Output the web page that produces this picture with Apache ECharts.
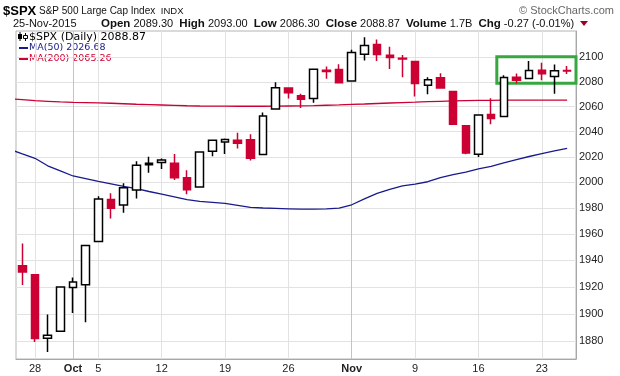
<!DOCTYPE html>
<html>
<head>
<meta charset="utf-8">
<script src="https://cdn.jsdelivr.net/npm/echarts@6/dist/echarts.min.js"></script>
<style>
  html, body { margin: 0; padding: 0; background: #fff; }
  #chart { width: 620px; height: 376px; }
</style>
</head>
<body>
<div id="chart"></div>
<script>
// daily candles, 25-Sep-2015 .. 25-Nov-2015
const days = ['2015-09-25', '2015-09-28', '2015-09-29', '2015-09-30', '2015-10-01', '2015-10-02',
  '2015-10-05', '2015-10-06', '2015-10-07', '2015-10-08', '2015-10-09',
  '2015-10-12', '2015-10-13', '2015-10-14', '2015-10-15', '2015-10-16',
  '2015-10-19', '2015-10-20', '2015-10-21', '2015-10-22', '2015-10-23',
  '2015-10-26', '2015-10-27', '2015-10-28', '2015-10-29', '2015-10-30',
  '2015-11-02', '2015-11-03', '2015-11-04', '2015-11-05', '2015-11-06',
  '2015-11-09', '2015-11-10', '2015-11-11', '2015-11-12', '2015-11-13',
  '2015-11-16', '2015-11-17', '2015-11-18', '2015-11-19', '2015-11-20',
  '2015-11-23', '2015-11-24', '2015-11-25']
const opens = [1935.93, 1929.18, 1881.90, 1887.14, 1919.65, 1921.77,
  1954.33, 1986.63, 1982.34, 1994.01, 2013.73,
  2015.65, 2015.00, 2003.66, 1996.47, 2024.37,
  2031.73, 2033.13, 2033.47, 2021.88, 2058.19,
  2075.08, 2068.75, 2066.48, 2088.35, 2090.00,
  2080.76, 2102.63, 2110.60, 2101.68, 2098.60,
  2096.56, 2077.19, 2083.41, 2072.29, 2044.64,
  2022.08, 2053.67, 2051.99, 2083.70, 2082.82,
  2089.41, 2084.42, 2089.30]
const highs = [1952.89, 1929.18, 1899.48, 1920.53, 1927.21, 1951.36,
  1989.17, 1991.62, 1999.31, 2016.50, 2020.13,
  2018.66, 2022.34, 2009.56, 2024.15, 2033.54,
  2034.45, 2039.12, 2037.97, 2055.20, 2079.74,
  2075.14, 2070.37, 2090.35, 2092.52, 2094.32,
  2106.20, 2116.48, 2114.59, 2108.78, 2101.91,
  2096.56, 2083.67, 2086.94, 2072.29, 2044.64,
  2053.22, 2066.69, 2085.31, 2086.74, 2097.06,
  2095.61, 2094.12, 2093.00]
const lows = [1921.50, 1879.21, 1871.91, 1887.14, 1900.70, 1893.70,
  1954.33, 1971.99, 1976.44, 1987.53, 2007.61,
  2010.55, 2001.78, 1990.73, 1996.47, 2020.46,
  2022.31, 2026.61, 2017.22, 2021.88, 2058.19,
  2066.53, 2058.84, 2063.11, 2082.63, 2079.34,
  2080.76, 2097.51, 2096.98, 2090.41, 2083.74,
  2068.24, 2069.91, 2074.85, 2045.66, 2022.02,
  2019.94, 2045.90, 2051.99, 2078.76, 2082.82,
  2081.39, 2070.29, 2086.30]
const closes = [1931.34, 1881.77, 1884.09, 1920.03, 1923.82, 1951.36,
  1987.05, 1979.92, 1995.83, 2013.43, 2014.89,
  2017.46, 2003.69, 1994.24, 2023.86, 2033.11,
  2033.66, 2030.77, 2018.94, 2052.51, 2075.15,
  2071.18, 2065.89, 2090.35, 2089.41, 2079.36,
  2104.05, 2109.79, 2102.31, 2099.93, 2099.20,
  2078.58, 2081.72, 2075.00, 2045.97, 2023.04,
  2053.19, 2050.44, 2083.58, 2081.24, 2089.17,
  2086.59, 2089.14, 2088.87]
const prevClose = 1932.24   // 24-Sep close, colours the first candle
const volumeText = '1.7B'

// moving averages, one per day starting 24-Sep (the day before the first candle)
const ma50 = [2026.0, 2022.4, 2018.9, 2013.0, 2009.0, 2005.0, 2002.9, 2000.7, 1998.8, 1996.9,
  1995.1, 1992.9, 1990.8, 1988.7, 1986.6, 1985.3, 1984.5, 1983.7, 1982.2, 1980.6,
  1980.1, 1979.8, 1979.5, 1979.2, 1979.2, 1979.4, 1980.0, 1982.6, 1987.2, 1991.5,
  1994.6, 1997.2, 1998.6, 2000.5, 2003.8, 2006.0, 2008.1, 2010.6, 2012.5, 2015.2,
  2017.8, 2020.3, 2022.6, 2024.8, 2026.68]
const ma200 = [2066.3, 2065.6, 2064.8, 2064.3, 2063.8, 2063.5, 2063.3, 2063.1, 2062.7, 2062.3,
  2061.9, 2061.6, 2061.3, 2061.0, 2060.7, 2060.5, 2060.4, 2060.4, 2060.3, 2060.3,
  2060.3, 2060.4, 2060.5, 2060.6, 2060.8, 2061.1, 2061.4, 2061.8, 2062.1, 2062.5,
  2062.9, 2063.3, 2063.6, 2064.0, 2064.3, 2064.6, 2064.8, 2065.0, 2065.1, 2065.2,
  2065.2, 2065.3, 2065.3, 2065.3, 2065.26]

const priceTicks = [1880, 1900, 1920, 1940, 1960, 1980, 2000, 2020, 2040, 2060, 2080, 2100]
const dateTickDays = ['2015-09-28', '2015-10-01', '2015-10-05', '2015-10-12', '2015-10-19',
  '2015-10-26', '2015-11-02', '2015-11-09', '2015-11-16', '2015-11-23']
const dateTickLabels = ['28', 'Oct', '5', '12', '19', '26', 'Nov', '9', '16', '23']

// green highlight box (day index span, price span)
const boxDays = [37.45, 43.7]
const boxPrices = [2078.8, 2100.5]

const RED = '#cc0033'
const NAVY = '#1a1a8c'
const GREEN = '#36a83f'
const FONT = 'Liberation Sans, Arial, sans-serif'
const ln = Math.log

const dateTickIdx = dateTickDays.map(d => days.indexOf(d))

const candleData = days.map((d, i) => {
  const o = opens[i]
  const c = closes[i]
  const prev = i ? closes[i - 1] : prevClose
  const col = c < prev ? RED : '#000000'
  const fill = c > o ? '#ffffff' : col
  return {
    value: [i, ln(o), ln(c), ln(lows[i]), ln(highs[i])],
    itemStyle: { color: fill, color0: fill, borderColor: col, borderColor0: col }
  }
})

const last = closes.length - 1
const chg = closes[last] - closes[last - 1]
const chgPct = chg / closes[last - 1] * 100
const headerInfo = '{b|Open} ' + opens[last].toFixed(2) +
  '  {b|High} ' + highs[last].toFixed(2) +
  '  {b|Low} ' + lows[last].toFixed(2) +
  '  {b|Close} ' + closes[last].toFixed(2) +
  '  {b|Volume} ' + volumeText +
  '  {b|Chg} ' + chg.toFixed(2) + ' (' + chgPct.toFixed(2) + '%)'

const chart = echarts.init(document.getElementById('chart'))
chart.setOption({
  animation: false,
  backgroundColor: '#ffffff',
  grid: {
    left: 16,
    right: 44,
    top: 31,
    bottom: 17,
    show: true,
    borderColor: '#b4b4b4',
    borderWidth: 1
  },
  xAxis: {
    type: 'value',
    min: -0.5,
    max: 43.7,
    axisLine: { show: true, onZero: false, lineStyle: { color: '#a8a8a8' } },
    axisTick: { show: false, customValues: dateTickIdx },
    axisLabel: {
      customValues: dateTickIdx,
      margin: 4,
      fontSize: 11,
      fontFamily: FONT,
      color: '#222',
      formatter: function(v) {
        const k = dateTickIdx.indexOf(Math.round(v))
        const t = dateTickLabels[k]
        return isNaN(t) ? '{b|' + t + '}' : t
      },
      rich: { b: { fontWeight: 'bold', fontSize: 11, fontFamily: FONT, color: '#222' } }
    },
    splitLine: {
      show: true,
      lineStyle: { color: dateTickLabels.map(t => isNaN(t) ? '#c4c4c4' : '#e2e2e2'), width: 1 }
    }
  },
  yAxis: {
    type: 'value',
    position: 'right',
    min: ln(1866.8),
    max: ln(2121.7),
    axisLine: { show: true, onZero: false, lineStyle: { color: '#a8a8a8' } },
    axisTick: { show: false, customValues: priceTicks.map(ln) },
    axisLabel: {
      customValues: priceTicks.map(ln),
      margin: 3,
      fontSize: 11,
      fontFamily: FONT,
      color: '#222',
      formatter: function(v) {
        return String(Math.round(Math.exp(v)))
      }
    },
    splitLine: { show: true, lineStyle: { color: '#e2e2e2', width: 1 } }
  },
  series: [
    {
      name: 'MA(200)',
      type: 'line',
      data: ma200.map((v, k) => [k - 1, ln(v)]),
      showSymbol: false,
      symbol: 'none',
      clip: true,
      z: 1,
      lineStyle: { color: RED, width: 1.3 }
    },
    {
      name: 'MA(50)',
      type: 'line',
      data: ma50.map((v, k) => [k - 1, ln(v)]),
      showSymbol: false,
      symbol: 'none',
      clip: true,
      z: 1,
      lineStyle: { color: NAVY, width: 1.3 }
    },
    {
      name: '$SPX',
      type: 'candlestick',
      data: candleData,
      encode: { x: 0, y: [1, 2, 3, 4] },
      barWidth: 8,
      z: 3,
      itemStyle: { borderWidth: 1.5 },
      markArea: {
        silent: true,
        itemStyle: { color: 'rgba(0,0,0,0)', borderColor: GREEN, borderWidth: 3 },
        data: [[
          { coord: [boxDays[0], ln(boxPrices[1])] },
          { coord: [boxDays[1], ln(boxPrices[0])] }
        ]]
      }
    }
  ],
  graphic: [
    {
      type: 'text', x: 3, y: 11,
      style: {
        text: '{t|$SPX} S&P 500 Large Cap Index  {s|INDX}',
        font: '10px ' + FONT, fill: '#111', verticalAlign: 'middle',
        rich: {
          t: { fontWeight: 'bold', fontSize: 13, fontFamily: FONT, fill: '#000' },
          s: { fontSize: 9.5, fontFamily: FONT, fill: '#111' }
        }
      }
    },
    {
      type: 'text', x: 614, y: 11,
      style: { text: '© StockCharts.com', font: '11px ' + FONT, fill: '#666', align: 'right', verticalAlign: 'middle' }
    },
    {
      type: 'text', x: 13, y: 24,
      style: { text: '25-Nov-2015', font: '11px ' + FONT, fill: '#111', verticalAlign: 'middle' }
    },
    {
      type: 'text', x: 101, y: 24,
      style: {
        text: headerInfo, font: '11px ' + FONT, fill: '#111', verticalAlign: 'middle',
        rich: { b: { fontWeight: 'bold', fontSize: 11.5, fontFamily: FONT, fill: '#111' } }
      }
    },
    {
      type: 'polygon',
      shape: { points: [[580, 21], [588, 21], [584, 26]] },
      style: { fill: '#a00028' }
    },
    // legend inside the plot
    {
      type: 'group', x: 18, y: 32,
      children: [
        { type: 'line', shape: { x1: 2, y1: 0, x2: 2, y2: 9 }, style: { stroke: '#000', lineWidth: 1 } },
        { type: 'rect', shape: { x: 0, y: 2, width: 4, height: 5 }, style: { fill: '#000' } },
        { type: 'line', shape: { x1: 7.5, y1: 1, x2: 7.5, y2: 9 }, style: { stroke: '#000', lineWidth: 1 } },
        { type: 'rect', shape: { x: 5.5, y: 3.5, width: 4, height: 3 }, style: { fill: '#fff', stroke: '#000', lineWidth: 1 } }
      ]
    },
    {
      type: 'text', x: 29, y: 37,
      style: { text: '$SPX (Daily) ' + closes[last].toFixed(2), font: '11px DejaVu Sans', fill: '#000', verticalAlign: 'middle' }
    },
    {
      type: 'line', shape: { x1: 19, y1: 48, x2: 28, y2: 48 }, style: { stroke: NAVY, lineWidth: 2 }
    },
    {
      type: 'text', x: 29, y: 48,
      style: { text: 'MA(50) ' + ma50[ma50.length - 1].toFixed(2), font: '9.5px DejaVu Sans', fill: NAVY, verticalAlign: 'middle' }
    },
    {
      type: 'line', shape: { x1: 19, y1: 59, x2: 28, y2: 59 }, style: { stroke: RED, lineWidth: 2 }
    },
    {
      type: 'text', x: 29, y: 59,
      style: { text: 'MA(200) ' + ma200[ma200.length - 1].toFixed(2), font: '9.5px DejaVu Sans', fill: RED, verticalAlign: 'middle' }
    }
  ]
})
</script>
</body>
</html>
